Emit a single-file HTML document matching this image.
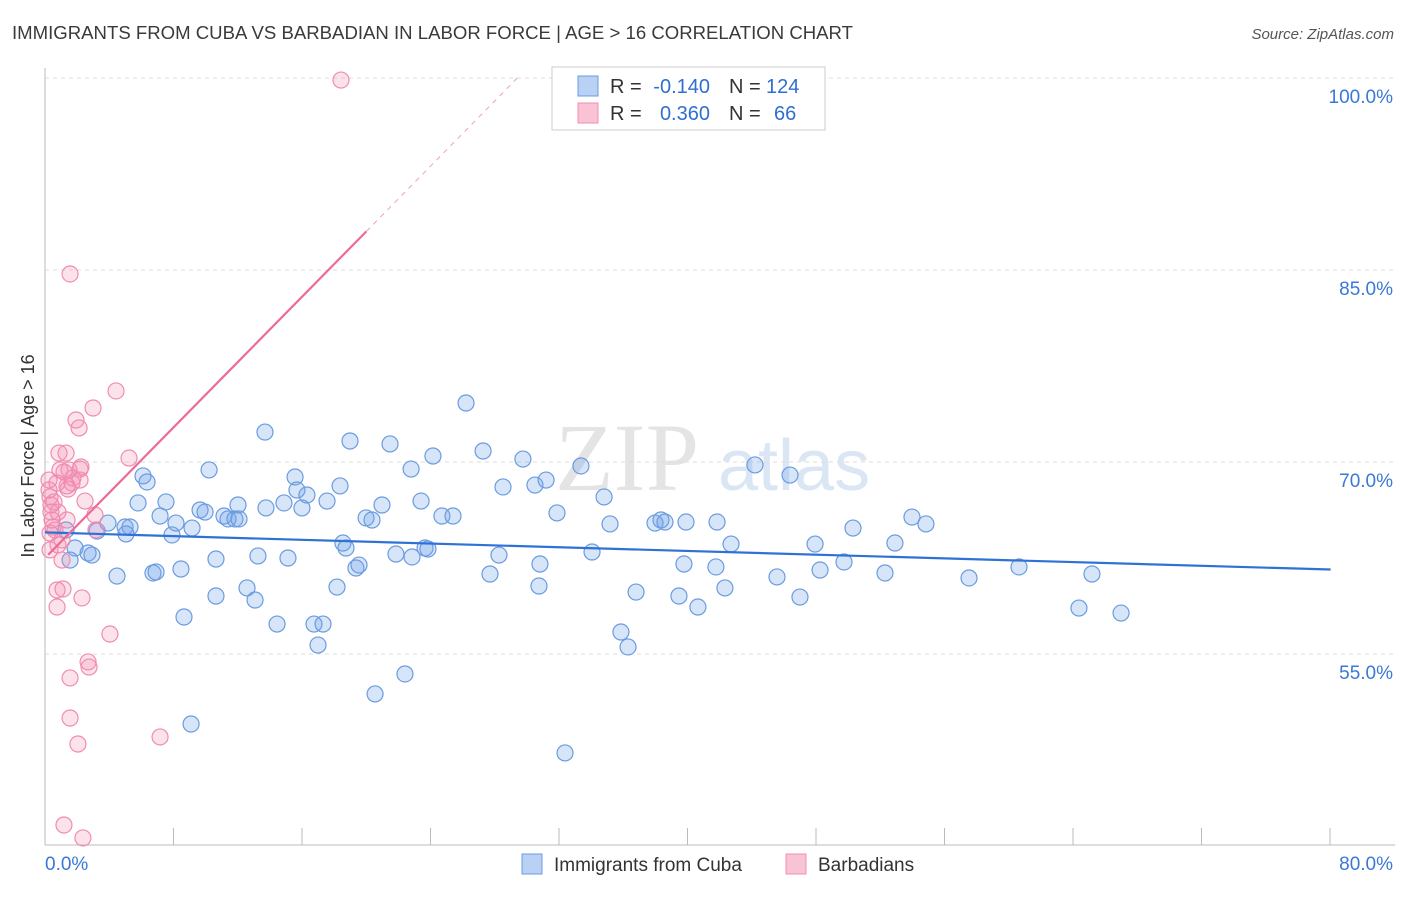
<!DOCTYPE html>
<html><head><meta charset="utf-8"><style>
body{margin:0;background:#fff;font-family:"Liberation Sans",sans-serif}
</style></head><body>
<svg id="chart" width="1406" height="892" xmlns="http://www.w3.org/2000/svg" font-family="Liberation Sans, sans-serif">
<text x="12" y="39" font-size="18" fill="#3a3a3a" textLength="841" lengthAdjust="spacingAndGlyphs">IMMIGRANTS FROM CUBA VS BARBADIAN IN LABOR FORCE | AGE &gt; 16 CORRELATION CHART</text>
<text x="1394" y="39" font-size="15" fill="#555" text-anchor="end" font-style="italic">Source: ZipAtlas.com</text>
<text x="555" y="490" font-size="96" fill="#e4e4e4" font-family="Liberation Serif, serif">ZIP</text>
<text x="718" y="490" font-size="72" fill="#dbe6f5">atlas</text>
<g id="grid"></g><g id="axes"></g><g id="marks"></g>
<text transform="translate(34,456) rotate(-90)" font-size="18" fill="#333" text-anchor="middle">In Labor Force | Age &gt; 16</text>
<g font-size="20">
<rect x="552" y="67" width="273" height="63" fill="#fff" stroke="#ccc"/>
<rect x="578" y="76" width="20" height="20" fill="#b8d1f4" stroke="#6a9be0"/>
<rect x="578" y="103" width="20" height="20" fill="#f9c3d5" stroke="#f08cb0"/>
<text x="610" y="93" fill="#333">R =</text>
<text x="710" y="93" fill="#2f6fd0" text-anchor="end">-0.140</text>
<text x="729" y="93" fill="#333">N =</text>
<text x="766" y="93" fill="#2f6fd0">124</text>
<text x="610" y="120" fill="#333">R =</text>
<text x="710" y="120" fill="#2f6fd0" text-anchor="end">0.360</text>
<text x="729" y="120" fill="#333">N =</text>
<text x="774" y="120" fill="#2f6fd0">66</text>
</g>
<g>
<rect x="522" y="854" width="20" height="20" fill="#b8d1f4" stroke="#6a9be0"/>
<text x="554" y="871" font-size="19" fill="#333">Immigrants from Cuba</text>
<rect x="786" y="854" width="20" height="20" fill="#f9c3d5" stroke="#f08cb0"/>
<text x="818" y="871" font-size="19" fill="#333">Barbadians</text>
</g>
</svg>
<script>
const blueX=[1.31,1.87,1.56,2.68,2.92,3.24,3.92,4.48,4.98,5.29,5.04,5.79,6.10,6.35,6.72,6.91,7.16,7.53,7.90,8.15,8.46,8.65,9.15,9.09,9.65,9.96,10.21,10.64,10.64,11.14,11.39,11.82,12.07,12.01,12.57,13.07,13.25,13.69,13.75,14.44,14.87,15.12,15.56,15.68,15.99,16.30,16.74,16.99,17.30,17.55,18.17,18.36,18.54,18.73,18.98,19.35,19.54,19.98,20.35,20.54,20.97,21.47,21.84,22.40,22.78,22.84,23.40,23.65,23.83,24.14,24.70,25.39,26.20,27.26,27.69,28.25,28.50,29.74,30.49,30.80,30.74,31.18,31.86,32.36,33.35,34.04,34.79,35.16,35.84,36.28,36.78,37.96,38.33,38.58,39.89,39.45,39.76,40.63,41.75,41.82,42.31,42.69,44.18,45.55,46.36,46.98,47.92,48.23,49.72,50.28,52.27,52.89,53.95,54.82,57.50,60.61,64.34,65.15,66.96];
const blueY=[64.69,63.28,62.34,62.89,62.73,64.61,65.23,61.09,64.92,64.92,64.38,66.80,68.91,68.44,61.33,61.41,65.78,66.88,64.30,65.23,61.64,57.89,64.84,49.53,66.25,66.09,69.38,59.53,62.42,65.78,65.55,65.55,65.55,66.64,60.16,59.22,62.66,72.34,66.41,57.34,66.80,62.50,68.83,67.81,66.41,67.42,57.34,55.70,57.34,66.95,60.23,68.13,63.67,63.28,71.64,61.72,61.95,65.63,65.47,51.88,66.64,71.41,62.81,53.44,69.45,62.58,66.95,63.28,63.20,70.47,65.78,65.78,74.61,70.86,61.25,62.73,68.05,70.23,68.20,62.03,60.31,68.59,66.02,47.27,69.69,62.97,67.27,65.16,56.72,55.55,59.84,65.23,65.47,65.31,65.31,59.53,62.03,58.67,61.80,65.31,60.16,63.59,69.77,61.02,68.98,59.45,63.59,61.56,62.19,64.84,61.33,63.67,65.70,65.16,60.94,61.80,58.59,61.25,58.20];
const pinkX=[0.25,0.31,0.37,0.37,0.44,0.50,0.62,0.75,0.75,0.75,0.81,0.87,0.93,1.12,1.06,1.18,1.18,1.31,1.37,1.43,1.49,1.56,1.56,1.56,1.68,1.74,1.93,2.05,2.12,2.18,2.24,2.18,2.30,2.36,2.49,2.68,2.74,2.99,3.11,3.17,4.04,4.42,5.23,7.16,18.42,0.31,0.56,0.81,1.06,1.37,0.31,0.25];
const pinkY=[68.59,67.27,66.64,66.09,65.47,64.92,64.69,68.36,60.0,58.67,63.52,70.70,69.38,60.08,62.34,41.64,69.22,70.70,68.13,67.89,69.38,53.13,50.0,84.69,68.36,68.75,73.28,47.97,72.66,69.45,69.61,68.59,59.38,40.63,66.95,54.38,53.98,74.22,65.86,64.69,56.56,75.55,70.31,48.52,99.84,64.45,66.88,66.09,63.91,65.47,63.13,67.81];
const yTicks=[100,85,70,55];
const yTickLabels=["100.0%","85.0%","70.0%","55.0%"];
const xTicks=[0,10,20,30,40,50,60,70,80,90,100];
const blueTrend=[64.5,61.6]; // at x=0 and x=80
const pinkTrend=[62.5,1.276]; // intercept, slope
const NS="http://www.w3.org/2000/svg";
const sx=v=>45+v*16.07, sy=v=>78+(100-v)*12.8;
function mk(t,a,p){const e=document.createElementNS(NS,t);for(const k in a)e.setAttribute(k,a[k]);p.appendChild(e);return e;}
const grid=document.getElementById('grid'),axes=document.getElementById('axes'),marks=document.getElementById('marks');
yTicks.forEach((v,i)=>{
 const l=mk('line',{x1:45,x2:1395,y1:sy(v),y2:sy(v),stroke:'#ddd','stroke-dasharray':'4,4'},grid);
 
 
 const t=mk('text',{x:1393,y:sy(v)+25,'font-size':19,fill:'#3a78d8','text-anchor':'end'},axes);t.textContent=yTickLabels[i];
 
 
});
mk('line',{x1:45,x2:45,y1:68,y2:845,stroke:'#bbb'},axes);
mk('line',{x1:45,x2:1395,y1:845,y2:845,stroke:'#bbb'},axes);
xTicks.forEach(v=>{const px=45+v*12.85;if(px>1335)return;const l=mk('line',{x1:px,x2:px,y1:828,y2:845,stroke:'#bbb'},axes);
 
 });
let t=mk('text',{x:45,y:870,'font-size':19,fill:'#3a78d8'},axes);t.textContent='0.0%';


t=mk('text',{x:1393,y:870,'font-size':19,fill:'#3a78d8','text-anchor':'end'},axes);t.textContent='80.0%';


blueX.forEach((x,i)=>{const c=mk('circle',{cx:sx(x),cy:sy(blueY[i]),r:8,fill:'rgba(110,160,235,0.28)',stroke:'#6a9be0','stroke-width':1.2},marks);
 
 });
pinkX.forEach((x,i)=>{const c=mk('circle',{cx:sx(x),cy:sy(pinkY[i]),r:8,fill:'rgba(245,140,175,0.25)',stroke:'#f08cb0','stroke-width':1.2},marks);
 
 });
let l=mk('line',{x1:sx(0),y1:sy(blueTrend[0]),x2:sx(80),y2:sy(blueTrend[1]),stroke:'#2f72d6','stroke-width':2.2},marks);


const pf=x=>pinkTrend[0]+pinkTrend[1]*x;
const xEnd=(100-pinkTrend[0])/pinkTrend[1];
l=mk('line',{x1:sx(0.2),y1:sy(pf(0.2)),x2:sx(20),y2:sy(pf(20)),stroke:'#ee6a96','stroke-width':2.2},marks);


l=mk('line',{x1:sx(20),y1:sy(pf(20)),x2:sx(xEnd),y2:sy(100),stroke:'#f0a0bb','stroke-width':1,'stroke-dasharray':'5,5'},marks);


</script>
</body></html>
